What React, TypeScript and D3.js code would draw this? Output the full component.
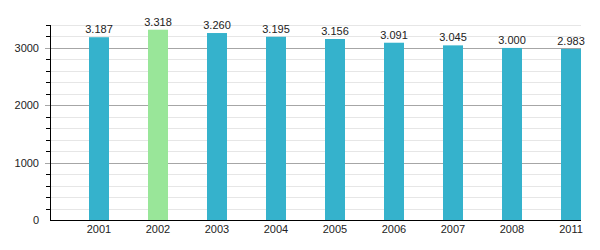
import React from "react";
import * as d3 from "d3";

const years = ["2001", "2002", "2003", "2004", "2005", "2006", "2007", "2008", "2011"];
const values = [3187, 3318, 3260, 3195, 3156, 3091, 3045, 3000, 2983];
const valueLabels = ["3.187", "3.318", "3.260", "3.195", "3.156", "3.091", "3.045", "3.000", "2.983"];
const highlightYear = "2002";
const majorTicks = [0, 1000, 2000, 3000];
const minorStep = 200;
const yMax = 3400;

export default function App() {
  const W = 600, H = 250;
  const left = 50, right = 581, top = 25, bottom = 220;
  const y = d3.scaleLinear().domain([0, yMax]).range([bottom, top]);
  const x = d3.scaleBand<string>().domain(years).range([69.5, 600.5]).paddingInner(1 - 20 / 59).paddingOuter(0.33);
  const xc = d3.scalePoint<string>().domain(years).range([99, 571]);
  const minor = d3.range(0, yMax + 1, minorStep);
  const font = "'Liberation Sans', Arial, sans-serif";
  const bw = 20;
  return (
    <svg width={W} height={H} style={{ position: "absolute", left: 0, top: 0, background: "#fff" }} fontFamily={font}>
      {minor.filter((v) => v % 1000 !== 0).map((v) => (
        <g key={"m" + v}>
          <line x1={left} x2={right} y1={Math.round(y(v)) + 0.5} y2={Math.round(y(v)) + 0.5} stroke="#e6e6e6" />
          <line x1={left - 4} x2={left} y1={Math.round(y(v)) + 0.5} y2={Math.round(y(v)) + 0.5} stroke="#000" />
        </g>
      ))}
      {majorTicks.filter((v) => v > 0).map((v) => (
        <line key={"M" + v} x1={left - 5} x2={right} y1={Math.round(y(v)) + 0.5} y2={Math.round(y(v)) + 0.5} stroke="#a6a6a6" />
      ))}
      {majorTicks.map((v) => (
        <text key={"t" + v} x={39} y={y(v) + 4} textAnchor="end" fontSize={11} fill="#222">{v}</text>
      ))}
      {years.map((yr, i) => (
        <g key={yr}>
          <rect x={xc(yr)! - bw / 2} y={y(values[i])} width={bw} height={bottom - y(values[i])} fill={yr === highlightYear ? "#99e699" : "#35b2cc"} />
          <text x={xc(yr)!} y={y(values[i]) - 4} textAnchor="middle" fontSize={11} fill="#222">{valueLabels[i]}</text>
          <text x={xc(yr)!} y={233} textAnchor="middle" fontSize={11} fill="#222">{yr}</text>
        </g>
      ))}
      <line x1={left + 0.5} x2={left + 0.5} y1={top} y2={bottom} stroke="#000" />
      <line x1={left} x2={right} y1={bottom + 0.5} y2={bottom + 0.5} stroke="#000" />
    </svg>
  );
}
